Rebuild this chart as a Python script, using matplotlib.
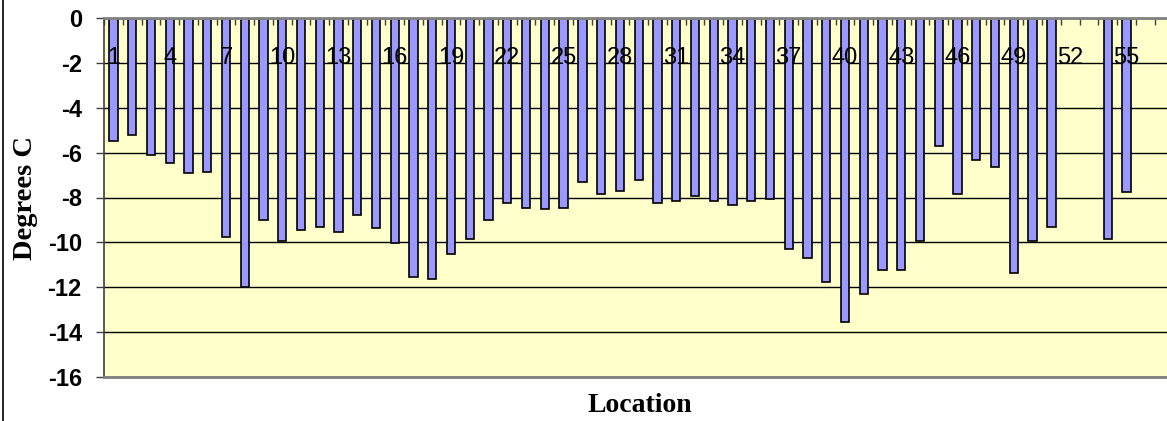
import matplotlib
matplotlib.use("Agg")
import matplotlib.pyplot as plt
from matplotlib.lines import Line2D

# Data: location number -> temperature (degrees C); locations 52, 53 and 56 have no value
locations = [1, 2, 3, 4, 5, 6, 7, 8, 9, 10,
             11, 12, 13, 14, 15, 16, 17, 18, 19, 20,
             21, 22, 23, 24, 25, 26, 27, 28, 29, 30,
             31, 32, 33, 34, 35, 36, 37, 38, 39, 40,
             41, 42, 43, 44, 45, 46, 47, 48, 49, 50,
             51, 54, 55]
temps = [-5.5, -5.2, -6.1, -6.45, -6.9, -6.85, -9.75, -12.0, -9.0, -9.95,
         -9.45, -9.3, -9.55, -8.8, -9.35, -10.05, -11.55, -11.65, -10.5, -9.85,
         -9.0, -8.25, -8.45, -8.5, -8.45, -7.3, -7.85, -7.7, -7.2, -8.25,
         -8.15, -7.95, -8.15, -8.35, -8.15, -8.05, -10.3, -10.7, -11.75, -13.55,
         -12.3, -11.25, -11.25, -9.95, -5.7, -7.85, -6.35, -6.65, -11.35, -9.95,
         -9.3, -9.85, -7.75]
n_categories = 57
x_tick_labels = [1, 4, 7, 10, 13, 16, 19, 22, 25, 28, 31, 34, 37, 40, 43, 46, 49, 52, 55]
y_ticks = [0, -2, -4, -6, -8, -10, -12, -14, -16]

W, H = 1167, 421
fig = plt.figure(figsize=(W / 100, H / 100), dpi=100)
fig.patch.set_facecolor("white")

cat_w = 18.76
left_px, top_px, bottom_px = 104, 18, 377
ax = fig.add_axes([left_px / W, 1 - bottom_px / H,
                   n_categories * cat_w / W, (bottom_px - top_px) / H])
ax.set_facecolor("#FFFFCC")

ax.bar(locations, temps, width=0.44, color="#9999FF", edgecolor="black",
       linewidth=1.2, zorder=3)

ax.set_xlim(0.5, n_categories + 0.5)
ax.set_ylim(-16, 0)

# horizontal gridlines
ax.set_yticks(y_ticks)
ax.yaxis.grid(True, color="black", linewidth=1.0, zorder=1)
ax.set_axisbelow(True)
ax.set_yticklabels([str(v) for v in y_ticks], fontsize=17, fontweight="bold",
                   family="Liberation Sans")
ax.tick_params(axis="y", direction="out", length=6, width=1.0, color="#404040", pad=10)

# x axis at the top (value 0), ticks at category boundaries, labels inside the plot
ax.xaxis.tick_top()
ax.set_xticks([i + 0.5 for i in range(0, n_categories + 1)])
ax.set_xticklabels([])
ax.tick_params(axis="x", direction="in", length=5, width=1.0, color="#404040")
for v in x_tick_labels:
    ax.text(v, -1.8, str(v), ha="center", va="center", fontsize=17,
            family="Liberation Sans", zorder=6, clip_on=False)

for side in ["top", "bottom"]:
    ax.spines[side].set_color("#808080")
    ax.spines[side].set_linewidth(2.0)
ax.spines["left"].set_color("#404040")
ax.spines["left"].set_linewidth(1.2)
ax.spines["right"].set_visible(False)
for s in ax.spines.values():
    s.set_zorder(4)

fig.text(25 / W, 1 - 197.5 / H, "Degrees C", rotation=90, ha="center", va="center",
         fontsize=20.5, fontweight="bold", family="Liberation Serif")
fig.text(640 / W, 1 - 406 / H, "Location", ha="center", va="center",
         fontsize=20, fontweight="bold", family="Liberation Serif")

# chart area border (left edge visible)
fig.add_artist(Line2D([2.5 / W, 2.5 / W], [0, 1], color="black", linewidth=1.2,
                      transform=fig.transFigure))

fig.savefig("out.png", dpi=100, facecolor="white")
